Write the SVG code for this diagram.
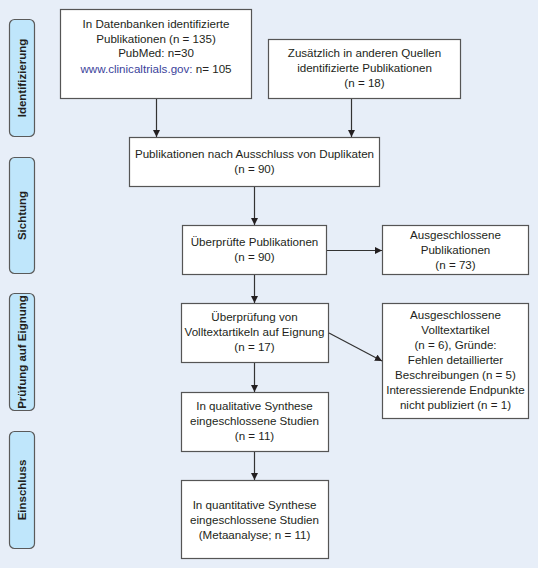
<svg xmlns="http://www.w3.org/2000/svg" width="538" height="568" viewBox="0 0 538 568">
<defs>
<marker id="ah" viewBox="0 0 10 10" refX="10" refY="5" markerWidth="7" markerHeight="7" markerUnits="userSpaceOnUse" orient="auto">
<path d="M0,0 L10,5 L0,10 Z" fill="#231f20"/>
</marker>
<style>
.box{fill:#ffffff;stroke:#555555;stroke-width:1.2}
.side{fill:#bfe6fb;stroke:#5a5a5a;stroke-width:1.2}
.t{font-family:"Liberation Sans",Arial,sans-serif;font-size:11.6px;fill:#231f20;text-anchor:middle}
.s{font-family:"Liberation Sans",Arial,sans-serif;font-size:11.5px;font-weight:bold;fill:#231f20;text-anchor:middle}
.link{fill:#3b3f9b}
.c{stroke:#333333;stroke-width:1.2;fill:none;marker-end:url(#ah)}
</style>
</defs>
<rect x="0" y="0" width="538" height="568" fill="#e7eef8"/>

<g id="phase-identifizierung">
<rect class="side" x="9.5" y="19.5" width="25" height="117" rx="5"/>
<text class="s" transform="translate(25.5,78) rotate(-90)">Identifizierung</text>
</g>
<g id="phase-sichtung">
<rect class="side" x="9.5" y="157.5" width="25" height="116" rx="5"/>
<text class="s" transform="translate(25.5,215.5) rotate(-90)">Sichtung</text>
</g>
<g id="phase-pruefung">
<rect class="side" x="9.5" y="293.5" width="25" height="117" rx="5"/>
<text class="s" transform="translate(25.5,352) rotate(-90)">Prüfung auf Eignung</text>
</g>
<g id="phase-einschluss">
<rect class="side" x="9.5" y="431.5" width="25" height="117" rx="5"/>
<text class="s" transform="translate(25.5,490) rotate(-90)">Einschluss</text>
</g>

<g id="n-datenbanken">
<rect class="box" x="60.5" y="9.5" width="191" height="89"/>
<text class="t" x="156" y="28">In Datenbanken identifizierte</text>
<text class="t" x="156" y="43">Publikationen (n = 135)</text>
<text class="t" x="156" y="57">PubMed: n=30</text>
<text class="t" x="156" y="73"><tspan class="link">www.clinicaltrials.gov:</tspan> n= 105</text>
</g>
<g id="n-andere">
<rect class="box" x="268.5" y="39.5" width="192" height="59"/>
<text class="t" x="364.5" y="57">Zusätzlich in anderen Quellen</text>
<text class="t" x="364.5" y="72">identifizierte Publikationen</text>
<text class="t" x="364.5" y="87">(n = 18)</text>
</g>
<g id="n-duplikate">
<rect class="box" x="129.5" y="137.5" width="250" height="49"/>
<text class="t" x="254.5" y="158">Publikationen nach Ausschluss von Duplikaten</text>
<text class="t" x="254.5" y="173">(n = 90)</text>
</g>
<g id="n-ueberprueft">
<rect class="box" x="182.5" y="225.5" width="144" height="49"/>
<text class="t" x="254.5" y="246">Überprüfte Publikationen</text>
<text class="t" x="254.5" y="261">(n = 90)</text>
</g>
<g id="n-ausgeschlossen-pub">
<rect class="box" x="382.5" y="225.5" width="146" height="49"/>
<text class="t" x="455.5" y="239">Ausgeschlossene</text>
<text class="t" x="455.5" y="254">Publikationen</text>
<text class="t" x="455.5" y="269">(n = 73)</text>
</g>
<g id="n-volltext">
<rect class="box" x="181.5" y="303.5" width="147" height="59"/>
<text class="t" x="254.5" y="321">Überprüfung von</text>
<text class="t" x="254.5" y="336">Volltextartikeln auf Eignung</text>
<text class="t" x="254.5" y="351">(n = 17)</text>
</g>
<g id="n-ausgeschlossen-volltext">
<rect class="box" x="382.5" y="303.5" width="146" height="115"/>
<text class="t" x="455.5" y="319">Ausgeschlossene</text>
<text class="t" x="455.5" y="334">Volltextartikel</text>
<text class="t" x="455.5" y="349">(n = 6), Gründe:</text>
<text class="t" x="455.5" y="364">Fehlen detaillierter</text>
<text class="t" x="455.5" y="379">Beschreibungen (n = 5)</text>
<text class="t" x="455.5" y="394">Interessierende Endpunkte</text>
<text class="t" x="455.5" y="409">nicht publiziert (n = 1)</text>
</g>
<g id="n-qualitativ">
<rect class="box" x="181.5" y="392.5" width="147" height="59"/>
<text class="t" x="254.5" y="410">In qualitative Synthese</text>
<text class="t" x="254.5" y="425">eingeschlossene Studien</text>
<text class="t" x="254.5" y="440">(n = 11)</text>
</g>
<g id="n-quantitativ">
<rect class="box" x="181.5" y="480.5" width="147" height="78"/>
<text class="t" x="254.5" y="509">In quantitative Synthese</text>
<text class="t" x="254.5" y="524">eingeschlossene Studien</text>
<text class="t" x="254.5" y="539">(Metaanalyse; n = 11)</text>
</g>

<g id="connectors">
<line class="c" x1="156.5" y1="99" x2="156.5" y2="137"/>
<line class="c" x1="351.5" y1="99" x2="351.5" y2="137"/>
<line class="c" x1="254.5" y1="187" x2="254.5" y2="225"/>
<line class="c" x1="327" y1="250.5" x2="382" y2="250.5"/>
<line class="c" x1="254.5" y1="275" x2="254.5" y2="303"/>
<line class="c" x1="329" y1="333" x2="382" y2="361"/>
<line class="c" x1="254.5" y1="363" x2="254.5" y2="392"/>
<line class="c" x1="254.5" y1="452" x2="254.5" y2="480"/>
</g>
</svg>
